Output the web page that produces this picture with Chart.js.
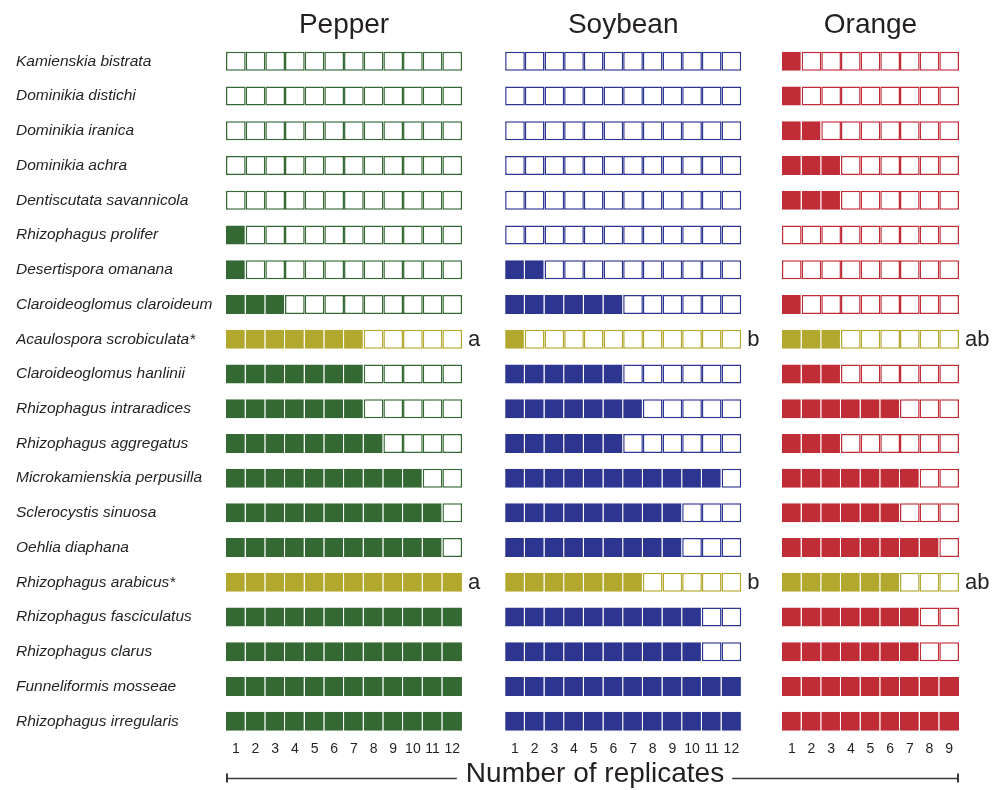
<!DOCTYPE html>
<html>
<head>
<meta charset="utf-8">
<script src="https://cdn.jsdelivr.net/npm/chart.js@4/dist/chart.umd.min.js"></script>
<style>
  html, body { margin: 0; padding: 0; background: #fff; }
  #wrap { position: relative; width: 1003px; height: 790px; }
</style>
</head>
<body>
<div id="wrap"><canvas id="c" width="1003" height="790"></canvas></div>
<script>
// AMF species detected per host, as number of positive replicates
const species = [
  'Kamienskia bistrata',
  'Dominikia distichi',
  'Dominikia iranica',
  'Dominikia achra',
  'Dentiscutata savannicola',
  'Rhizophagus prolifer',
  'Desertispora omanana',
  'Claroideoglomus claroideum',
  'Acaulospora scrobiculata*',
  'Claroideoglomus hanlinii',
  'Rhizophagus intraradices',
  'Rhizophagus aggregatus',
  'Microkamienskia perpusilla',
  'Sclerocystis sinuosa',
  'Oehlia diaphana',
  'Rhizophagus arabicus*',
  'Rhizophagus fasciculatus',
  'Rhizophagus clarus',
  'Funneliformis mosseae',
  'Rhizophagus irregularis'
];
const hosts = ['Pepper', 'Soybean', 'Orange'];
const replicates = [12, 12, 9];
const pepperCounts  = [0, 0, 0, 0, 0, 1, 1, 3, 7, 7, 7, 8, 10, 11, 11, 12, 12, 12, 12, 12];
const soybeanCounts = [0, 0, 0, 0, 0, 0, 2, 6, 1, 6, 7, 6, 11, 9, 9, 7, 10, 10, 12, 12];
const orangeCounts  = [1, 1, 2, 3, 3, 0, 0, 1, 3, 3, 6, 3, 7, 6, 8, 6, 7, 7, 9, 9];
// species with a significant difference between hosts, and the host groupings
const markedSpecies = ['Acaulospora scrobiculata*', 'Rhizophagus arabicus*'];
const groupLetters = ['a', 'b', 'ab'];

const counts = [pepperCounts, soybeanCounts, orangeCounts];

// styling
const hostColors = ['#356934', '#2c3590', '#c12d37'];
const markColor = '#b3a82e';
const textColor = '#231f20';
const fontFamily = '"Liberation Sans", Arial, Helvetica, sans-serif';
// panel start positions on the shared x axis (in replicate-cell units)
const panelStart = [0, 14.19, 28.26];
const xMax = 37.26;

// one dataset per replicate cell per host
const datasets = [];
hosts.forEach((host, p) => {
  const n = replicates[p];
  for (let k = 1; k <= n; k++) {
    const filled = i => k <= counts[p][i];
    const colorOf = i => markedSpecies.includes(species[i]) ? markColor : hostColors[p];
    datasets.push({
      label: host + ' ' + k,
      data: species.map(s => ({ y: s, x: [panelStart[p] + k - 1, panelStart[p] + k] })),
      backgroundColor: ctx => filled(ctx.dataIndex) ? colorOf(ctx.dataIndex) : '#ffffff',
      borderColor: ctx => filled(ctx.dataIndex)
        ? (k < n ? '#ffffff' : colorOf(ctx.dataIndex))
        : colorOf(ctx.dataIndex),
      borderWidth: ctx => filled(ctx.dataIndex)
        ? { left: 0, top: 0, bottom: 0, right: 1 }
        : 1.5,
      borderSkipped: false,
      inflateAmount: 0,
      barThickness: 19,
      grouped: false
    });
  }
});

// x ticks: replicate numbers centred under each cell
const tickValues = [];
const tickLabels = [];
hosts.forEach((h, p) => {
  for (let k = 1; k <= replicates[p]; k++) {
    tickValues.push(panelStart[p] + k - 0.5);
    tickLabels.push(String(k));
  }
});

const panelDecor = {
  id: 'panelDecor',
  afterDraw(chart) {
    const { ctx, scales: { x, y } } = chart;
    ctx.save();
    ctx.fillStyle = textColor;

    // host titles
    ctx.font = '28px ' + fontFamily;
    ctx.textAlign = 'center';
    ctx.textBaseline = 'alphabetic';
    hosts.forEach((h, p) => {
      const cx = (x.getPixelForValue(panelStart[p]) + x.getPixelForValue(panelStart[p] + replicates[p])) / 2;
      ctx.fillText(h, cx, 33);
    });

    // significance letters
    ctx.font = '22px ' + fontFamily;
    ctx.textAlign = 'left';
    ctx.textBaseline = 'middle';
    markedSpecies.forEach(s => {
      const cy = y.getPixelForValue(species.indexOf(s));
      hosts.forEach((h, p) => {
        const px = x.getPixelForValue(panelStart[p] + replicates[p]) + 6;
        ctx.fillText(groupLetters[p], px, cy + 1);
      });
    });

    // shared axis title with bracket line
    const x0 = x.getPixelForValue(0);
    const x1 = x.getPixelForValue(xMax);
    const ly = 778.5;
    const title = 'Number of replicates';
    ctx.font = '28px ' + fontFamily;
    ctx.textAlign = 'center';
    ctx.textBaseline = 'alphabetic';
    const tx = 595;
    const tw = ctx.measureText(title).width;
    ctx.fillText(title, tx, 782);
    ctx.strokeStyle = '#3a3a3a';
    ctx.lineWidth = 1.3;
    ctx.beginPath();
    ctx.moveTo(x0, ly); ctx.lineTo(tx - tw / 2 - 9, ly);
    ctx.moveTo(tx + tw / 2 + 8, ly); ctx.lineTo(x1, ly);
    ctx.stroke();
    ctx.lineWidth = 2;
    ctx.beginPath();
    ctx.moveTo(x0 + 1, ly - 5); ctx.lineTo(x0 + 1, ly + 4);
    ctx.moveTo(x1 - 1, ly - 5); ctx.lineTo(x1 - 1, ly + 4);
    ctx.stroke();
    ctx.restore();
  }
};

new Chart(document.getElementById('c'), {
  type: 'bar',
  data: { labels: species, datasets },
  options: {
    indexAxis: 'y',
    responsive: false,
    animation: false,
    layout: { padding: { left: 16, right: 44, top: 44, bottom: 0 } },
    plugins: { legend: { display: false }, tooltip: { enabled: false } },
    scales: {
      x: {
        type: 'linear',
        min: 0,
        max: xMax,
        grid: { display: false, drawTicks: false },
        border: { display: false },
        afterFit: scale => { scale.height = 51.4; },
        afterBuildTicks: scale => { scale.ticks = tickValues.map(v => ({ value: v })); },
        ticks: {
          autoSkip: false,
          maxRotation: 0,
          padding: 2,
          color: textColor,
          font: { family: fontFamily, size: 14 },
          callback: (v, i) => tickLabels[i]
        }
      },
      y: {
        type: 'category',
        grid: { display: false, drawTicks: false },
        border: { display: false },
        afterFit: scale => { scale.width = 210; },
        ticks: {
          crossAlign: 'far',
          padding: 0,
          color: textColor,
          font: { family: fontFamily, size: 15.5, style: 'italic' }
        }
      }
    }
  },
  plugins: [panelDecor]
});
</script>
</body>
</html>
